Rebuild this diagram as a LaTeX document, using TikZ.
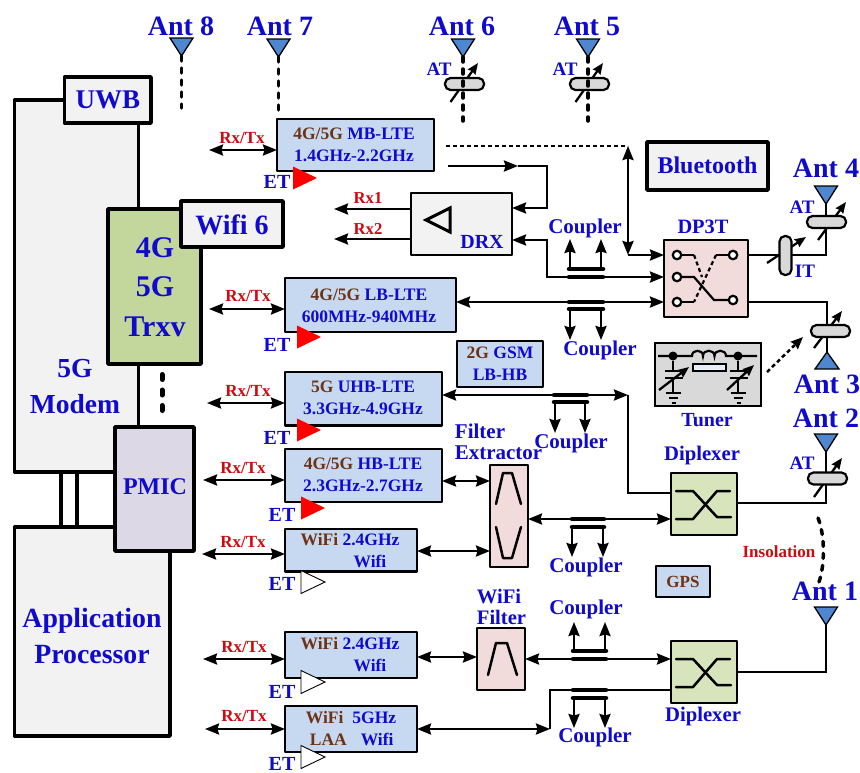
\documentclass[tikz,border=0pt]{standalone}
\usepackage{fontspec}
\setmainfont{Liberation Serif}
\usetikzlibrary{arrows.meta}
\definecolor{tblue}{RGB}{15,10,205}
\definecolor{tbrown}{RGB}{110,50,20}
\definecolor{tred}{RGB}{205,10,15}
\definecolor{fblue}{RGB}{198,217,240}
\definecolor{fgrey}{RGB}{242,242,242}
\definecolor{fgreen}{RGB}{195,214,155}
\definecolor{flilac}{RGB}{221,216,230}
\definecolor{fpink}{RGB}{242,220,219}
\definecolor{fdip}{RGB}{215,228,188}
\definecolor{ftun}{RGB}{217,217,217}
\definecolor{fant}{RGB}{79,134,208}
\tikzset{
  x=1pt,y=-1pt,
  txt/.style={font=\fontsize{#1}{#1}\selectfont\bfseries,text=tblue,inner sep=0,outer sep=0},
  rtxt/.style={txt=#1,text=tred},
  btxt/.style={font=\fontsize{17.5}{22}\selectfont\bfseries,text=tblue,inner sep=0,outer sep=0,align=center},
  heavy/.style={draw=black,line width=3.5pt,line join=round},
  bluebox/.style={draw=black,line width=2.5pt,fill=fblue,line join=round},
  midbox/.style={draw=black,line width=2.5pt,line join=round},
  wire/.style={draw=black,line width=2.3pt,line join=miter},
  tipf/.style={wire,-{Stealth[length=14pt,width=11pt,inset=1.5pt]}},
  tipb/.style={wire,{Stealth[length=14pt,width=11pt,inset=1.5pt]}-{Stealth[length=14pt,width=11pt,inset=1.5pt]}},
  bar/.style={draw=black,line width=4.5pt,line cap=round},
  dotted stem/.style={draw=black,line width=3.5pt,line cap=round,dash pattern=on 5pt off 7pt},
  pill/.style={draw=black,line width=2.2pt,fill=ftun,rounded corners=5.5pt,inner sep=0,outer sep=0},
  tune/.style={draw=black,line width=2.3pt,-{Stealth[length=11pt,width=9pt,inset=1pt]}},
  term/.style={circle,draw=black,line width=2.2pt,fill=white,minimum size=8.5pt,inner sep=0,outer sep=0},
  jn/.style={circle,fill=black,minimum size=9pt,inner sep=0,outer sep=0},
  sym/.style={draw=black,line width=2.5pt,line join=round,line cap=round},
  thin sym/.style={draw=black,line width=2.2pt},
}
\newcommand{\Bx}[7]{%
  \pgfmathsetmacro\bxw{#5-#3}\pgfmathsetmacro\bxh{#6-#4}%
  \pgfmathsetmacro\bxx{(#3+#5)/2}\pgfmathsetmacro\bxy{(#4+#6)/2}%
  \node[#2,minimum width=\bxw pt,minimum height=\bxh pt,inner sep=0,outer sep=0] (#1) at (\bxx,\bxy) {#7};}
\newcommand{\AntD}[3]{% name, x, ytop : down triangle
  \fill[fant] (#2-11.5,#3) -- (#2+11.5,#3) -- (#2,#3+18) -- cycle;
  \draw[line width=1.3pt,line join=miter] (#2-11.5,#3) -- (#2+11.5,#3) -- (#2,#3+18) -- cycle;
  \coordinate (#1) at (#2,#3+18);}
\newcommand{\Amp}[3]{% x,y,colour
  \fill[#3] (#1,#2-11.5) -- (#1,#2+11.5) -- (#1+24,#2) -- cycle;
  \draw[line width=.9pt,black] (#1,#2-11.5) -- (#1,#2+11.5) -- (#1+24,#2) -- cycle;}
\newcommand{\AmpR}[2]{%
  \fill[red] (#1,#2-11.5) -- (#1,#2+11.5) -- (#1+24,#2) -- cycle;}
\begin{document}
\begin{tikzpicture}
\useasboundingbox (0,0) rectangle (860,772);
% left column
\Bx{modem}{heavy,fill=fgrey}{14.5}{100}{138.5}{472}{}
\draw[heavy] (61,472) -- (61,527);
\draw[heavy] (77,472) -- (77,527);
\Bx{ap}{heavy,fill=fgrey}{14.5}{527}{170}{736}{}
\Bx{uwb}{heavy,fill=fgrey}{64.5}{77}{151}{123}{}
\Bx{trxv}{heavy,fill=fgreen}{108}{209}{201}{364}{}
\Bx{wifisix}{heavy,fill=fgrey}{181}{201}{283}{247}{}
\Bx{pmic}{heavy,fill=flilac}{115}{427}{194}{551}{}
\node[txt=27] (uwbt) at (108,100) {UWB};
\node[txt=28] (wifisixt) at (232,225) {Wifi 6};
\node[font=\fontsize{30}{39.5}\selectfont\bfseries,text=tblue,inner sep=0,align=center] (trxvt) at (155,287) {4G\\5G\\Trxv};
\node[font=\fontsize{27.5}{36}\selectfont\bfseries,text=tblue,inner sep=0,align=center] (modemt) at (75,387) {5G\\Modem};
\node[font=\fontsize{27.8}{35.5}\selectfont\bfseries,text=tblue,inner sep=0,align=center] (apt) at (92,636) {Application\\Processor};
\node[txt=24] (pmict) at (155,487) {PMIC};
\coordinate (dtop) at (162,374.5);
\coordinate (dbot) at (162,413);
\draw[line width=5pt,line cap=round,dash pattern=on 5pt off 10.5pt] (dtop) -- (dbot);
% RF boxes
\Bx{mb}{bluebox}{277}{119}{434}{171}{}
\Bx{lb}{bluebox}{285}{278}{456}{332}{}
\Bx{uhb}{bluebox}{285}{372}{442}{425.5}{}
\Bx{hb}{bluebox}{285}{449}{442}{502}{}
\Bx{wa}{bluebox}{285}{529}{417}{571.5}{}
\Bx{wb}{bluebox}{285}{632}{417}{678}{}
\Bx{wc}{bluebox}{285}{706}{417}{752}{}
\Bx{gsm}{bluebox}{457}{341}{543}{387}{}
\Bx{gps}{bluebox}{656}{566}{710}{597}{}
\node[btxt] (mbt) at (354,145) {\textcolor{tbrown}{4G/5G} MB-LTE\\1.4GHz-2.2GHz};
\node[btxt] (lbt) at (369,305.5) {\textcolor{tbrown}{4G/5G} LB-LTE\\600MHz-940MHz};
\node[btxt] (uhbt) at (363,398) {\textcolor{tbrown}{5G} UHB-LTE\\3.3GHz-4.9GHz};
\node[btxt] (hbt) at (363,475) {\textcolor{tbrown}{4G/5G} HB-LTE\\2.3GHz-2.7GHz};
\node[btxt,align=left] (wat) at (350,550.5) {\textcolor{tbrown}{WiFi} 2.4GHz\\\hspace*{53pt}Wifi};
\node[btxt,align=left] (wbt) at (350,655) {\textcolor{tbrown}{WiFi} 2.4GHz\\\hspace*{53pt}Wifi};
\node[btxt,align=left] (wct) at (351,729) {\textcolor{tbrown}{WiFi}\hspace{9pt}5GHz\\\hspace*{4pt}\textcolor{tbrown}{LAA}\hspace{14pt}Wifi};
\node[btxt] (gsmt) at (500,364) {\textcolor{tbrown}{2G} GSM\\LB-HB};
\node[txt=17,text=tbrown] (gpst) at (683,582) {GPS};
% ET amps
\AmpR{293}{178}
\AmpR{297}{337}
\AmpR{297}{430}
\AmpR{301}{508}
\Amp{301}{582}{white}
\Amp{301}{682}{white}
\Amp{301}{757}{white}
\node[txt=20] (et1) at (277,182) {ET};
\node[txt=20] (et2) at (277,345) {ET};
\node[txt=20] (et3) at (277,438) {ET};
\node[txt=20] (et4) at (282,515) {ET};
\node[txt=20] (et5) at (282,584) {ET};
\node[txt=20] (et6) at (282,692) {ET};
\node[txt=20] (et7) at (282,764) {ET};
% Rx/Tx
\coordinate (r1) at (209,150);
\coordinate (r2) at (209,309);
\coordinate (r3) at (207,403);
\coordinate (r4) at (203,480);
\coordinate (r5) at (202,554);
\coordinate (r6) at (203,659);
\coordinate (r7) at (205,729);
\draw[tipb] (r1) -- (r1 -| mb.west);
\draw[tipb] (r2) -- (r2 -| lb.west);
\draw[tipb] (r3) -- (r3 -| uhb.west);
\draw[tipb] (r4) -- (r4 -| hb.west);
\draw[tipb] (r5) -- (r5 -| wa.west);
\draw[tipb] (r6) -- (r6 -| wb.west);
\draw[tipb] (r7) -- (r7 -| wc.west);
\node[rtxt=17] (rt1) at (242,138) {Rx/Tx};
\node[rtxt=17] (rt2) at (248,296) {Rx/Tx};
\node[rtxt=17] (rt3) at (248,391) {Rx/Tx};
\node[rtxt=17] (rt4) at (243,468) {Rx/Tx};
\node[rtxt=17] (rt5) at (243,542) {Rx/Tx};
\node[rtxt=17] (rt6) at (244,647) {Rx/Tx};
\node[rtxt=17] (rt7) at (244,716) {Rx/Tx};
% DRX
\Bx{drx}{midbox,fill=fgrey}{411}{193}{512}{255}{}
\draw[line width=3pt,line join=miter] (426,220) -- (450,208) -- (450,232) -- cycle;
\node[txt=20] (drxt) at (482,242) {DRX};
\coordinate (rxa) at (334,209);
\coordinate (rxb) at (334,239);
\draw[tipf] (rxa -| drx.west) -- (rxa);
\draw[tipf] (rxb -| drx.west) -- (rxb);
\node[rtxt=16.7] (rxat) at (368,198) {Rx1};
\node[rtxt=16.7] (rxbt) at (368,229) {Rx2};
% Other boxes
\Bx{bt}{heavy,fill=fgrey}{647}{142}{768}{190}{}
\node[txt=24] (btt) at (707.5,165) {Bluetooth};
\Bx{dp}{midbox,fill=fpink}{664}{240}{748}{317}{}
\node[txt=20.4] (dpt) at (703,227) {DP3T};
\Bx{tuner}{draw=black,line width=1.8pt,fill=ftun}{655}{343}{761}{406}{}
\node[txt=20] (tunert) at (707,420) {Tuner};
\Bx{fe}{midbox,fill=fpink}{490}{465}{528}{567}{}
\Bx{wf}{midbox,fill=fpink}{477}{628}{525}{690}{}
\Bx{dipa}{midbox,fill=fdip}{671}{473}{737}{535}{}
\Bx{dipb}{midbox,fill=fdip}{671}{641}{737}{703}{}
\node[txt=21] (ft1) at (480,431) {Filter};
\node[txt=21] (ft2) at (498.5,453) {Extractor};
\node[txt=20.6] (wft1) at (499,596) {WiFi};
\node[txt=20.6] (wft2) at (501.5,617) {Filter};
\node[txt=20.7] (dipat) at (702,456) {Diplexer};
\node[txt=20.7] (dipbt) at (703,717) {Diplexer};
\node[rtxt=17] (ins) at (779,552) {Insolation};
% filter symbols
\draw[sym] (496,504) -- (503,473) -- (512,473) -- (521,504);
\draw[sym] (496,527) -- (503,558) -- (512,558) -- (521,527);
\draw[sym] (488,675) -- (496,643) -- (507,643) -- (517,675);
% diplexer symbols
\draw[sym] (676,491) -- (693,491) -- (717,517) -- (731,517);
\draw[sym] (676,519) -- (693,519) -- (717,491) -- (730,491);
\draw[sym] (676,659) -- (693,659) -- (717,685) -- (731,685);
\draw[sym] (676,687) -- (693,687) -- (717,659) -- (730,659);
% connectors top
\coordinate (dl) at (446,146);
\coordinate (dc) at (628,146);
\coordinate (dd) at (628,255);
\draw[line width=2pt,dash pattern=on 4pt off 3pt] (dl) -- (dc);
\draw[tipb] (dc) -- (dd);
\draw[tipf] (dd) -- (dd -| dp.west);
\coordinate (mbo) at (448,166);
\coordinate (mbm) at (518,166);
\coordinate (mbc) at (547,166);
\draw[tipf] (mbo) -- (mbm);
\draw[tipf] (mbm) -- (mbc) -- (547,208) -- (drx.east |- 0,208);
\draw[tipb] (drx.east |- 0,240) -- (547,240) -- (547,277) -- (dp.west |- 0,277);
% couplers
\draw[bar] (569,277) -- (603,277);
\draw[bar] (569,269) -- (603,269);
\draw[tipf] (570,269) -- (570,239);
\draw[tipf] (601,269) -- (601,239);
\node[txt=21] (c1) at (585,228) {Coupler};
\draw[tipb] (lb.east |- 0,302) -- (dp.west |- 0,302);
\draw[bar] (569,302) -- (603,302);
\draw[bar] (569,309) -- (603,309);
\draw[tipf] (570,309) -- (570,340);
\draw[tipf] (601,309) -- (601,340);
\node[txt=21] (c2) at (600,350) {Coupler};
\coordinate (ua) at (628,395);
\draw[tipb] (uhb.east |- ua) -- (ua);
\draw[wire] (ua) -- (628,493) -- (dipa.west |- 0,493);
\draw[bar] (554,395) -- (587,395);
\draw[bar] (554,402) -- (587,402);
\draw[tipf] (555,402) -- (555,433);
\draw[tipf] (585,402) -- (585,433);
\node[txt=21] (c3) at (571,443) {Coupler};
\draw[tipb] (hb.east |- 0,481) -- (fe.west |- 0,481);
\draw[tipb] (wa.east |- 0,551) -- (fe.west |- 0,551);
\draw[tipb] (fe.east |- 0,519) -- (dipa.west |- 0,519);
\draw[bar] (572,519) -- (604,519);
\draw[bar] (572,527) -- (604,527);
\draw[tipf] (572,527) -- (572,557);
\draw[tipf] (603,527) -- (603,557);
\node[txt=21] (c4) at (586,567) {Coupler};
\draw[tipb] (wb.east |- 0,657) -- (wf.west |- 0,657);
\draw[tipb] (wf.east |- 0,659) -- (dipb.west |- 0,659);
\draw[bar] (573,659) -- (606,659);
\draw[bar] (573,651) -- (606,651);
\draw[tipf] (574,651) -- (574,622);
\draw[tipf] (605,651) -- (605,622);
\node[txt=21] (c5) at (586,609) {Coupler};
\coordinate (wcj) at (550,729);
\draw[tipb] (wc.east |- wcj) -- (wcj);
\draw[wire] (wcj) -- (550,690) -- (dipb.west |- 0,690);
\draw[bar] (573,690) -- (606,690);
\draw[bar] (573,698) -- (606,698);
\draw[tipf] (574,698) -- (574,728);
\draw[tipf] (605,698) -- (605,728);
\node[txt=21] (c6) at (595,737) {Coupler};
% DP3T internals
\node[term] (ta) at (677,255) {};
\node[term] (tb) at (677,277) {};
\node[term] (tc) at (677,302) {};
\node[term] (td) at (733,255) {};
\node[term] (te) at (733,300) {};
\draw[thin sym] (ta) -- (694,255);
\draw[thin sym] (td) -- (716,255);
\draw[thin sym] (tc) -- (694,302);
\draw[thin sym] (tb) -- (694,277) -- (714,300) -- (te);
\draw[thin sym,dash pattern=on 4pt off 3pt] (694,255) -- (702,277);
\draw[thin sym,dash pattern=on 4pt off 3pt] (716,255) -- (694,302);
% Tuner internals
\draw[thin sym] (658,356) -- (692,356) .. controls (692,349) and (703,349) .. (703,356) .. controls (703,349) and (714.5,349) .. (714.5,356) .. controls (714.5,349) and (726,349) .. (726,356) -- (757,356);
\node[draw=black,line width=1.8pt,fill=fblue!45,minimum width=33pt,minimum height=7pt,inner sep=0] (tres) at (709.5,367.5) {};
\node[jn] (ja) at (673,356) {};
\node[jn] (jb) at (738,356) {};
\draw[thin sym] (ja) -- (673,371) (665,371) -- (683,371) (665,378) -- (683,378) (673,378) -- (673,393) (666,393) -- (681,393) (669,398) -- (678,398) (671.5,403) -- (675.5,403);
\draw[thin sym] (jb) -- (738,371) (730,371) -- (748,371) (730,378) -- (748,378) (738,378) -- (738,393) (731,393) -- (746,393) (734,398) -- (743,398) (736.5,403) -- (740.5,403);
\draw[tune] (659,390) -- (689,367);
\draw[tune] (727,390) -- (754,365);
\coordinate (tua) at (767,372);
\coordinate (tub) at (803,337);
\draw[line width=2.5pt,dash pattern=on 4pt off 3pt,-{Stealth[length=12pt,width=10pt,inset=1pt]}] (tua) -- (tub);
% Antennas
\AntD{a8}{181.5}{38}
\AntD{a7}{278.5}{39}
\AntD{a6}{463}{39}
\AntD{a5}{588}{39}
\AntD{a4}{826}{186}
\AntD{a2}{826}{434}
\AntD{a1}{826}{607}
\fill[fant] (815,369) -- (839,369) -- (827,352) -- cycle;
\draw[line width=1.3pt] (815,369) -- (839,369) -- (827,352) -- cycle;
\coordinate (a3) at (827,352);
\node[txt=28] (a8t) at (181,26) {Ant 8};
\node[txt=28] (a7t) at (280,26) {Ant 7};
\node[txt=28] (a6t) at (462,26) {Ant 6};
\node[txt=28] (a5t) at (587,26) {Ant 5};
\node[txt=28] (a4t) at (826,168) {Ant 4};
\node[txt=28] (a3t) at (827,384) {Ant 3};
\node[txt=28] (a2t) at (826,418) {Ant 2};
\node[txt=28] (a1t) at (825,591) {Ant 1};
% stems
\coordinate (s8) at (181.5,108);
\coordinate (s7) at (278.5,110);
\coordinate (s6) at (463,121);
\coordinate (s5) at (588,121);
\draw[dotted stem] (a8) -- (s8);
\draw[dotted stem] (a7) -- (s7);
% tunable pills
\draw[tune] (450.5,102) -- (478,63);
\draw[tune] (575.5,102) -- (603,63);
\node[pill,minimum width=39pt,minimum height=12pt] (p6) at (464.5,84) {};
\node[pill,minimum width=39pt,minimum height=12pt] (p5) at (589.5,84) {};
\draw[dotted stem] (a6) -- (s6);
\draw[dotted stem] (a5) -- (s5);
\node[txt=19] (at6) at (439,69) {AT};
\node[txt=19] (at5) at (565,69) {AT};
% Ant4 + IT
\draw[wire] (dp.east |- 0,255) -- (826,255) -- (a4);
\draw[tune] (818,240) -- (846,202);
\node[pill,minimum width=39pt,minimum height=12pt] (p4) at (826.5,222) {};
\draw[tune] (767,263) -- (806,237);
\node[pill,minimum width=12pt,minimum height=39pt] (pit) at (785.5,255.5) {};
\node[txt=19] (at4) at (802,207) {AT};
\node[txt=19] (itt) at (805,271) {IT};
% Ant3
\draw[wire] (dp.east |- 0,302) -- (827,302) -- (a3);
\draw[tune] (814,348) -- (842,311);
\node[pill,minimum width=39pt,minimum height=12pt] (p3) at (830.5,331) {};
% Ant2
\draw[wire] (dipa.east |- 0,503) -- (826,503) -- (a2);
\draw[tune] (814,497) -- (842,458);
\node[pill,minimum width=39pt,minimum height=12pt] (p2) at (827.5,478.5) {};
\node[txt=19] (at2) at (802,463) {AT};
% Ant1
\draw[wire] (dipb.east |- 0,672) -- (826,672) -- (a1);
% isolation
\coordinate (ia) at (818,518);
\coordinate (ib) at (819,582);
\draw[line width=3.5pt,line cap=round,dash pattern=on 5pt off 7pt] (ia) .. controls (825,535) and (825,565) .. (ib);
\end{tikzpicture}
\end{document}
